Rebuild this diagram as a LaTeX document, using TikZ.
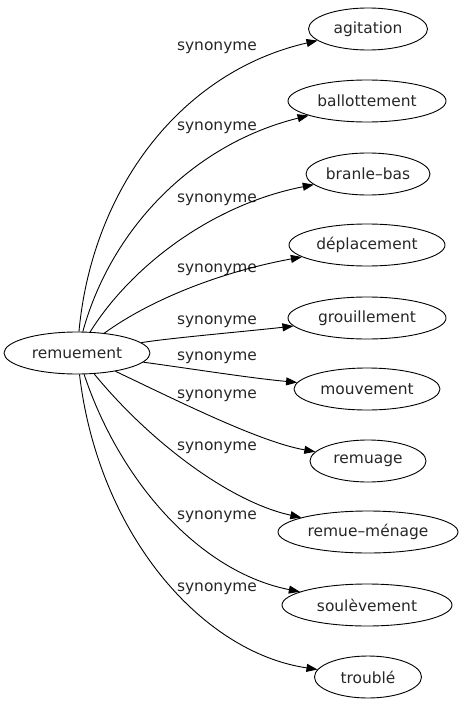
\documentclass[tikz,border=0pt]{standalone}
\usepackage{fontspec}
\setmainfont{DejaVu Sans}
\usetikzlibrary{shapes.geometric,arrows.meta}
\tikzset{
  term/.style={ellipse, draw, line width=0.9bp, inner sep=0pt, minimum height=42bp, font=\fontsize{15.5}{18}\selectfont, text=black!85},
  lab/.style={font=\fontsize{15.5}{18}\selectfont, text=black!85, inner sep=0pt},
  syn/.style={draw, line width=0.9bp, -{Triangle[length=11bp,width=8bp]}}
}
\begin{document}
\begin{tikzpicture}[x=1bp,y=-1bp]
\useasboundingbox (0,0) rectangle (465,707);
\node[term, minimum width=146bp] (r) at (77,353) {remuement};
\node[term, minimum width=119bp] (a1) at (368,29) {agitation};
\node[term, minimum width=158bp] (a2) at (367,101) {ballottement};
\node[term, minimum width=124bp] (a3) at (368,174) {branle–bas};
\node[term, minimum width=156bp] (a4) at (367,245) {déplacement};
\node[term, minimum width=158bp] (a5) at (367,318) {grouillement};
\node[term, minimum width=146bp] (a6) at (367,389) {mouvement};
\node[term, minimum width=116bp] (a7) at (368,461) {remuage};
\node[term, minimum width=180bp] (a8) at (368,532) {remue–ménage};
\node[term, minimum width=170bp] (a9) at (367,605) {soulèvement};
\node[term, minimum width=107bp] (a10) at (368,677) {troublé};

\node[lab] (l1) at (217,48) {synonyme};
\node[lab] (l2) at (217,128) {synonyme};
\node[lab] (l3) at (217,200) {synonyme};
\node[lab] (l4) at (217,270) {synonyme};
\node[lab] (l5) at (217,322) {synonyme};
\node[lab] (l6) at (217,358) {synonyme};
\node[lab] (l7) at (217,396) {synonyme};
\node[lab] (l8) at (217,448) {synonyme};
\node[lab] (l9) at (217,517) {synonyme};
\node[lab] (l10) at (217,589) {synonyme};

\path[syn] (r) .. controls (92,190) and (180,72) .. (a1);
\path[syn] (r) .. controls (110,232) and (190,145) .. (a2);
\path[syn] (r) .. controls (130,268) and (210,205) .. (a3);
\path[syn] (r) .. controls (150,300) and (220,272) .. (a4);
\path[syn] (r) .. controls (170,338) and (240,332) .. (a5);
\path[syn] (r) .. controls (200,370) and (250,378) .. (a6);
\path[syn] (r) .. controls (180,402) and (260,442) .. (a7);
\path[syn] (r) .. controls (150,442) and (230,502) .. (a8);
\path[syn] (r) .. controls (120,482) and (200,572) .. (a9);
\path[syn] (r) .. controls (98,532) and (200,652) .. (a10);
\end{tikzpicture}
\end{document}
